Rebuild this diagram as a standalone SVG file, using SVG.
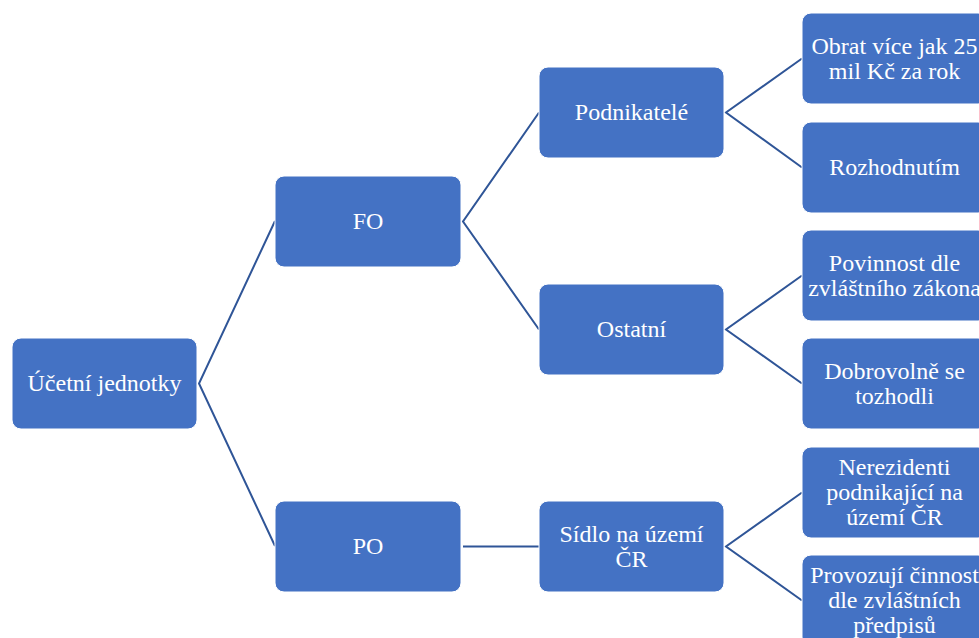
<svg xmlns="http://www.w3.org/2000/svg" width="979" height="638" viewBox="0 0 979 638">
<style>
.n rect{fill:#4472C4;stroke:#ffffff;stroke-width:1}
.n text{fill:#ffffff;font-family:"Liberation Serif","Times New Roman",serif;font-size:24px;text-anchor:middle}
.c line, .c polyline{stroke:#2F5597;stroke-width:2;fill:none}
</style>
<rect width="979" height="638" fill="#ffffff"/>
<g class="c" id="connectors">
<polyline points="275,221 199,383.5 275,546"/>
<polyline points="539,112.5 463,221.5 539,329.5"/>
<line x1="463" y1="546.5" x2="539" y2="546.5"/>
<polyline points="802,58.5 726,112.5 802,167.5"/>
<polyline points="802,275.5 726,329.5 802,383.5"/>
<polyline points="802,492.5 726,546.5 802,600.5"/>
</g>
<g class="n" id="ucetni"><rect x="12" y="338" width="185" height="91" rx="9"/><text x="104.5" y="391">Účetní jednotky</text></g>
<g class="n" id="fo"><rect x="275" y="176" width="186" height="91" rx="9"/><text x="368" y="229">FO</text></g>
<g class="n" id="po"><rect x="275" y="501" width="186" height="91" rx="9"/><text x="368" y="554">PO</text></g>
<g class="n" id="podnikatele"><rect x="539" y="67" width="185" height="91" rx="9"/><text x="631.5" y="120">Podnikatelé</text></g>
<g class="n" id="ostatni"><rect x="539" y="284" width="185" height="91" rx="9"/><text x="631.5" y="337">Ostatní</text></g>
<g class="n" id="sidlo"><rect x="539" y="501" width="185" height="91" rx="9"/><text x="631.5" y="541.5">Sídlo na území</text><text x="631.5" y="566.5">ČR</text></g>
<g class="n" id="obrat"><rect x="802" y="13" width="185" height="91" rx="9"/><text x="894.5" y="54">Obrat více jak 25</text><text x="894.5" y="79">mil Kč za rok</text></g>
<g class="n" id="rozhodnutim"><rect x="802" y="122" width="185" height="91" rx="9"/><text x="894.5" y="175">Rozhodnutím</text></g>
<g class="n" id="povinnost"><rect x="802" y="230" width="185" height="91" rx="9"/><text x="894.5" y="271">Povinnost dle</text><text x="894.5" y="296">zvláštního zákona</text></g>
<g class="n" id="dobrovolne"><rect x="802" y="338" width="185" height="91" rx="9"/><text x="894.5" y="379">Dobrovolně se</text><text x="894.5" y="404">tozhodli</text></g>
<g class="n" id="nerezidenti"><rect x="802" y="447" width="185" height="91" rx="9"/><text x="894.5" y="475">Nerezidenti</text><text x="894.5" y="500">podnikající na</text><text x="894.5" y="525">území ČR</text></g>
<g class="n" id="provozuji"><rect x="802" y="555" width="185" height="91" rx="9"/><text x="894.5" y="583">Provozují činnost</text><text x="894.5" y="608">dle zvláštních</text><text x="894.5" y="633">předpisů</text></g>
</svg>
